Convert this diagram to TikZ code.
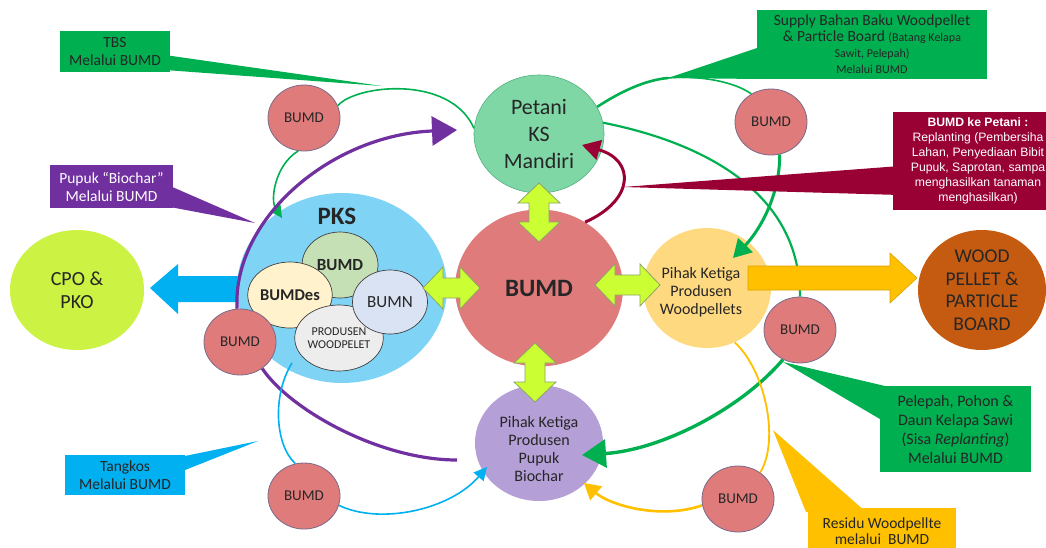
\documentclass[tikz,border=0pt]{standalone}
\usepackage{fontspec}
\setmainfont{Carlito}
\newfontfamily\arialf{Liberation Sans}
\usetikzlibrary{arrows.meta,shapes.geometric}
\pgfdeclarelayer{back}
\pgfdeclarelayer{mid}
\pgfsetlayers{back,mid,main}

\definecolor{cgreen}{HTML}{00B050}
\definecolor{cpurple}{HTML}{7030A0}
\definecolor{cmaroon}{HTML}{990033}
\definecolor{cblue}{HTML}{00B0F0}
\definecolor{cyellow}{HTML}{FFC000}
\definecolor{cyellowd}{HTML}{D9A300}
\definecolor{bumdfill}{HTML}{E07B7B}
\definecolor{bumdline}{HTML}{7A6A8A}
\definecolor{petanifill}{HTML}{80D7A6}
\definecolor{petaniline}{HTML}{4FB27A}
\definecolor{pksfill}{HTML}{7FD4F6}
\definecolor{ibumd}{HTML}{C5E0B4}
\definecolor{ibumdes}{HTML}{FFF2CC}
\definecolor{ibumn}{HTML}{DAE3F3}
\definecolor{iprod}{HTML}{EDEDED}
\definecolor{cpofill}{HTML}{CCF244}
\definecolor{wpfill}{HTML}{FFD97F}
\definecolor{boardfill}{HTML}{C55A11}
\definecolor{biofill}{HTML}{B49FD6}
\definecolor{dafill}{HTML}{CCFF33}
\definecolor{daline}{HTML}{8DA36B}
\definecolor{txtdark}{HTML}{262626}

\newcommand{\HDA}[3]{\draw[dastyle] (#1,#3) -- ++(20,-21) -- ++(0,11) -- ({#2-20},{#3-10}) -- ++(0,-11) -- (#2,#3) -- ++(-20,21) -- ++(0,-11) -- ({#1+20},{#3+10}) -- ++(0,11) -- cycle;}
\newcommand{\VDA}[3]{\draw[dastyle] (#1,#2) -- ++(21,20) -- ++(-11,0) -- ({#1+10},{#3-20}) -- ++(11,0) -- (#1,#3) -- ++(-21,-20) -- ++(11,0) -- ({#1-10},{#2+20}) -- ++(-11,0) -- cycle;}

\begin{document}
\begin{tikzpicture}[x=1pt,y=-1pt,
  bumdsm/.style={ellipse,draw=bumdline,line width=0.8pt,fill=bumdfill,minimum width=72pt,minimum height=66pt,inner sep=0pt,text=txtdark,font=\fontsize{15}{18}\selectfont},
  bigc/.style={ellipse,inner sep=0pt,align=center,text=txtdark},
  innerc/.style={ellipse,draw=black!75,line width=0.7pt,inner sep=0pt,align=center,text=txtdark},
  dastyle/.style={fill=dafill,draw=daline,line width=0.8pt,line join=miter},
  cbox/.style={rectangle,inner sep=0pt,align=center},
  txtc/.style={align=center,text=txtdark,inner sep=0pt},
  ]
\useasboundingbox (0,0) rectangle (1046,547);

% free ends of connectors
\coordinate (tbsend) at (282,218);
\coordinate (purtip) at (457,130);
\coordinate (purend) at (457,460);
\coordinate (bluestart) at (292,363);
\coordinate (bluetip) at (487,467);
\coordinate (supjoin) at (668,78);
\coordinate (wptip) at (733,258);
\coordinate (gtip) at (582,455);
\coordinate (ytip) at (584,483);
\coordinate (mtip) at (582,145);

\begin{pgfonlayer}{back}
\fill[white] (0,0) rectangle (1046,547);
\fill[cblue] (150,288) -- (178,264) -- (178,276) -- (250,276) -- (250,302) -- (178,302) -- (178,314) -- cycle;
\node[bigc,fill=pksfill,minimum width=210pt,minimum height=190pt] (pks) at (342,288) {};
\node[bigc,fill=cpofill,minimum width=134pt,minimum height=120pt,font=\fontsize{20}{23}\selectfont] (cpo) at (77,290) {CPO \&\\PKO};
\node[bigc,fill=petanifill,draw=petaniline,line width=0.6pt,minimum width=130pt,minimum height=118pt,font=\fontsize{22}{27}\selectfont] (pet) at (539,134) {Petani\\KS\\Mandiri};
\node[bigc,fill=bumdfill,minimum width=168pt,minimum height=157pt,font=\bfseries\fontsize{25}{30}\selectfont] (bumd) at (539,288) {BUMD};
\node[bigc,fill=wpfill,minimum width=128pt,minimum height=120pt] (wp) at (707,288) {};
\node[bigc,fill=boardfill,minimum width=128pt,minimum height=120pt,font=\fontsize{19.5}{22.5}\selectfont] (board) at (982,290) {WOOD\\PELLET \&\\PARTICLE\\BOARD};
\node[bigc,fill=biofill,minimum width=128pt,minimum height=116pt] (bio) at (539,443) {};
\node[innerc,fill=ibumd,minimum width=76pt,minimum height=66pt,font=\bfseries\fontsize{17}{20}\selectfont] (ib) at (340,265) {BUMD};
\node[innerc,fill=ibumdes,minimum width=78pt,minimum height=66pt,font=\bfseries\fontsize{16.5}{20}\selectfont] (ides) at (290,295) {BUMDes};
\node[innerc,fill=iprod,minimum width=77pt,minimum height=66pt,font=\fontsize{12}{13}\selectfont] (iprod) at (339,338) {PRODUSEN\\WOODPELET};
\node[innerc,fill=ibumn,minimum width=75pt,minimum height=64pt,font=\fontsize{17}{20}\selectfont] (ibn) at (390,302) {BUMN};
\node[txtc,font=\bfseries\fontsize{25}{30}\selectfont] (pkslbl) at (337,216) {PKS};
\end{pgfonlayer}

% small BUMD circles
\node[bumdsm] (b1) at (304,118) {BUMD};
\node[bumdsm] (b2) at (771,122) {BUMD};
\node[bumdsm] (b3) at (240,342) {BUMD};
\node[bumdsm] (b4) at (800,330) {BUMD};
\node[bumdsm] (b5) at (304,496) {BUMD};
\node[bumdsm] (b6) at (738,499) {BUMD};

\begin{pgfonlayer}{mid}
% TBS
\draw[cgreen,line width=1.6pt] (b1.20) .. controls (355,85) and (450,74) .. (pet.175);
\draw[cgreen,line width=1.6pt,-{Triangle[length=12pt,width=12pt]}] (b1.-100) .. controls (275,165) and (270,200) .. (tbsend);
% purple
\draw[cpurple,line width=3.2pt,-{Triangle[length=25pt,width=29pt]}] (b3.95) .. controls (232,220) and (330,135) .. (purtip);
\draw[cpurple,line width=3.2pt] (b3.-50) .. controls (290,410) and (380,460) .. (purend);
% blue
\draw[cblue,line width=1.6pt] (bluestart) .. controls (272,395) and (275,445) .. (b5.105);
\draw[cblue,line width=1.6pt,-{Triangle[length=13pt,width=13pt]}] (b5.-15) .. controls (380,525) and (450,510) .. (bluetip);
% supply
\draw[cgreen,line width=2.6pt] (pet.25) .. controls (620,92) and (645,80) .. (supjoin);
\draw[cgreen,line width=1.6pt] (supjoin) .. controls (700,75) and (735,82) .. (b2.125);
\draw[cgreen,line width=3pt,-{Triangle[length=18pt,width=20pt]}] (b2.-75) .. controls (780,195) and (760,230) .. (wptip);
% pelepah
\draw[cgreen,line width=2.2pt] (pet.10) .. controls (690,140) and (800,185) .. (b4.90);
\draw[cgreen,line width=3.4pt,-{Triangle[length=24pt,width=28pt]}] (b4.-120) .. controls (740,410) and (660,450) .. (gtip);
% residu
\draw[cyellow,line width=1.8pt] (wp.-63) .. controls (765,370) and (780,440) .. (b6.50);
\draw[cyellow,line width=2.6pt,-{Triangle[length=16pt,width=18pt]}] (b6.190) .. controls (660,520) and (610,505) .. (ytip);
% maroon
\draw[cmaroon,line width=3pt,-{Triangle[length=18pt,width=20pt]}] (bumd.55) .. controls (635,200) and (635,160) .. (mtip);
% block arrows
\draw[fill=cyellow,draw=cyellowd,line width=0.6pt] (748,266) -- (890,266) -- (890,253) -- (917,278) -- (890,303) -- (890,290) -- (748,290) -- cycle;
\HDA{423}{480}{288}
\HDA{595}{660}{285}
\VDA{539}{183}{242}
\VDA{535}{343}{402}
\end{pgfonlayer}

% texts in circles
\node[txtc,font=\fontsize{16}{18}\selectfont] (wptxt) at (701,292) {Pihak Ketiga\\Produsen\\Woodpellets};
\node[txtc,font=\fontsize{16}{18}\selectfont] (biotxt) at (539,449) {Pihak Ketiga\\Produsen\\Pupuk\\Biochar};

% callouts
\fill[cgreen] (165,55) -- (382,86) -- (165,70) -- cycle;
\node[cbox,fill=cgreen,minimum width=110pt,minimum height=41pt,text=txtdark,font=\fontsize{15.5}{18}\selectfont] (tbs) at (115,51.5) {TBS\\Melalui BUMD};

\fill[cpurple] (170,186) -- (255,223) -- (170,207) -- cycle;
\node[cbox,fill=cpurple,minimum width=123pt,minimum height=43pt,text=white,font=\fontsize{15.5}{18}\selectfont] (pupuk) at (111.5,186.5) {Pupuk “Biochar”\\Melalui BUMD};

\fill[cblue] (180,457) -- (258,441) -- (180,472) -- cycle;
\node[cbox,fill=cblue,minimum width=120pt,minimum height=40pt,text=txtdark,font=\fontsize{15.5}{18}\selectfont] (tangkos) at (125,475) {Tangkos\\Melalui BUMD};

\fill[cgreen] (760,47) -- (668,78) -- (760,79) -- cycle;
\node[cbox,fill=cgreen,minimum width=230pt,minimum height=69pt,text=txtdark,font=\fontsize{15.5}{16}\selectfont] (supply) at (872,44.5) {Supply Bahan Baku Woodpellet\\\& Particle Board {\fontsize{12}{16}\selectfont(Batang Kelapa}\\{\fontsize{12}{16}\selectfont Sawit, Pelepah)}\\{\fontsize{12}{16}\selectfont Melalui BUMD}};

\fill[cmaroon] (623,187) -- (900,166) -- (900,195) -- cycle;
\begin{scope}
\clip (0,0) rectangle (1046,547);
\node[cbox,fill=cmaroon,minimum width=170pt,minimum height=98pt,text=white,font=\arialf\fontsize{12.2}{15}\selectfont] (bkp) at (978,161) {{\bfseries BUMD ke Petani :}\\Replanting (Pembersiha\\Lahan, Penyediaan Bibit\\Pupuk, Saprotan, sampa\\menghasilkan tanaman\\menghasilkan)};
\end{scope}

\fill[cgreen] (783,362) -- (885,386) -- (885,422) -- cycle;
\node[cbox,fill=cgreen,minimum width=151pt,minimum height=86pt,text=txtdark,font=\fontsize{16}{19}\selectfont] (pel) at (955.5,429) {Pelepah, Pohon \&\\Daun Kelapa Sawi\\(Sisa \textit{Replanting})\\Melalui BUMD};

\fill[cyellow] (773,430) -- (806,512) -- (866,512) -- cycle;
\begin{scope}
\clip (0,0) rectangle (1046,547);
\node[cbox,fill=cyellow,minimum width=148pt,minimum height=46pt,text=txtdark,font=\fontsize{15.5}{16}\selectfont] (res) at (882,531) {Residu Woodpellte\\melalui~~BUMD};
\end{scope}
\end{tikzpicture}
\end{document}
